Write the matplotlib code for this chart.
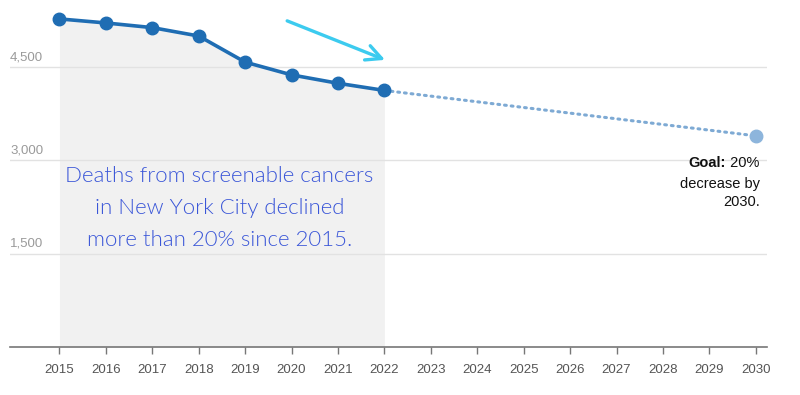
import matplotlib.pyplot as plt

# data
years = [2015, 2016, 2017, 2018, 2019, 2020, 2021, 2022]
deaths = [5275, 5210, 5135, 5000, 4580, 4375, 4240, 4125]
goal_year = 2030
goal_value = 3395
y_ticks = [1500, 3000, 4500]
x_ticks = list(range(2015, 2031))

plt.rcParams['font.family'] = ['Liberation Sans', 'DejaVu Sans']

fig = plt.figure(figsize=(8, 3.95), dpi=100)
ax = fig.add_axes([0.0125, 0.1215, 0.946, 0.8785])
ax.set_xlim(2013.935, 2030.237)
ax.set_ylim(0, 5579)

# grey area under the observed years
ax.fill_between(years, deaths, 0, color='#f1f1f1', lw=0, zorder=0)

# gridlines + labels sitting above them
for t in y_ticks:
    ax.axhline(t, color='#e2e2e2', lw=1, zorder=1)
    ax.text(0.0, t + 60, f"{t:,}", transform=ax.get_yaxis_transform(),
            ha='left', va='bottom', color='#9a9a9a', fontsize=9.5)

# projection to the goal
ax.plot([years[-1], goal_year], [deaths[-1], goal_value], color='#7eaad4',
        lw=2.2, ls=(0, (0.6, 1.6)), dash_capstyle='round', zorder=2)
ax.plot([goal_year], [goal_value], 'o', color='#8db5dc', ms=9, zorder=3)

# observed series
ax.plot(years, deaths, color='#1f6db3', lw=2.6, marker='o', ms=9, zorder=4)

# goal note
gx = goal_year + 0.08
t1 = ax.text(gx, 2958, " 20%", ha='right', va='center', fontsize=10.5, color='#111111')
ax.annotate("Goal:", xy=(0, 0.5), xycoords=t1, ha='right', va='center',
            fontsize=10.5, fontweight='bold', color='#111111')
ax.text(gx, 2625, "decrease by", ha='right', va='center', fontsize=10.5, color='#111111')
ax.text(gx, 2330, "2030.", ha='right', va='center', fontsize=10.5, color='#111111')

# handwritten-style note
ax.text(2018.45, 2235, "Deaths from screenable cancers\nin New York City declined\nmore than 20% since 2015.",
        ha='center', va='center', fontsize=16, color='#3a56d8',
        family=['Lato', 'DejaVu Sans'], fontweight=300, linespacing=1.75)

# cyan hand-drawn arrow
ax.annotate("", xy=(2022.07, 4600), xytext=(2019.85, 5260),
            arrowprops=dict(arrowstyle='->,head_length=1.1,head_width=0.55',
                            color='#3ccbef', lw=2.4))

# axes styling
for s in ['top', 'right', 'left']:
    ax.spines[s].set_visible(False)
ax.spines['bottom'].set_color('#777777')
ax.spines['bottom'].set_linewidth(1.2)
ax.set_yticks([])
ax.set_xticks(x_ticks)
ax.set_xticklabels([str(x) for x in x_ticks])
ax.tick_params(axis='x', colors='#777777', labelcolor='#555555', labelsize=9.5,
               length=5, width=1, pad=7)

plt.savefig("out.png", dpi=100)
